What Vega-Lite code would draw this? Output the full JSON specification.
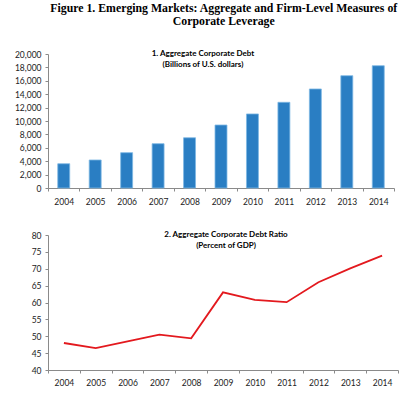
{
  "$schema": "https://vega.github.io/schema/vega-lite/v6.json",
  "background": "white",
  "padding": {"left": 5, "top": 3, "right": 0, "bottom": 0},
  "title": {
    "text": ["Figure 1. Emerging Markets: Aggregate and Firm-Level Measures of", "Corporate Leverage"],
    "font": "Liberation Serif",
    "fontSize": 11.8,
    "fontWeight": "bold",
    "color": "black",
    "anchor": "middle",
    "lineHeight": 13,
    "dx": 22,
    "offset": 22
  },
  "spacing": 25,
  "datasets": {
    "emerging": [
      {"year": "2004", "debt": 3620, "ratio": 48.0},
      {"year": "2005", "debt": 4180, "ratio": 46.5},
      {"year": "2006", "debt": 5270, "ratio": 48.5},
      {"year": "2007", "debt": 6610, "ratio": 50.5},
      {"year": "2008", "debt": 7500, "ratio": 49.4},
      {"year": "2009", "debt": 9400, "ratio": 63.0},
      {"year": "2010", "debt": 11050, "ratio": 60.8},
      {"year": "2011", "debt": 12790, "ratio": 60.1},
      {"year": "2012", "debt": 14780, "ratio": 66.0},
      {"year": "2013", "debt": 16760, "ratio": 70.1},
      {"year": "2014", "debt": 18250, "ratio": 73.9}
    ]
  },
  "data": {"name": "emerging"},
  "config": {
    "view": {"stroke": null},
    "axis": {
      "labelFont": "Lato",
      "labelFontSize": 8.5,
      "labelColor": "#222222",
      "domainColor": "#8a8a8a",
      "tickColor": "#8a8a8a",
      "tickSize": 3,
      "grid": false,
      "title": null
    }
  },
  "vconcat": [
    {
      "width": 346,
      "height": 134,
      "title": {
        "text": ["1. Aggregate Corporate Debt", "(Billions of U.S. dollars)"],
        "font": "Lato",
        "fontSize": 8,
        "fontWeight": "bold",
        "color": "black",
        "anchor": "middle",
        "frame": "group",
        "lineHeight": 11,
        "dx": -18,
        "offset": -19
      },
      "mark": {"type": "bar", "color": "#2a7ec3", "stroke": "#7db7e3", "strokeWidth": 0.8, "width": {"band": 0.38}},
      "encoding": {
        "x": {
          "field": "year",
          "type": "ordinal",
          "scale": {"type": "band", "paddingInner": 0, "paddingOuter": 0},
          "axis": {"labelAngle": 0, "tickBand": "extent", "labelPadding": 6}
        },
        "y": {
          "field": "debt",
          "type": "quantitative",
          "scale": {"domain": [0, 20000]},
          "axis": {
            "values": [0, 2000, 4000, 6000, 8000, 10000, 12000, 14000, 16000, 18000, 20000],
            "format": ",d",
            "minExtent": 43,
            "maxExtent": 43,
            "labelPadding": 4
          }
        }
      }
    },
    {
      "width": 350,
      "height": 135,
      "title": {
        "text": ["2. Aggregate Corporate Debt Ratio", "(Percent of GDP)"],
        "font": "Lato",
        "fontSize": 8,
        "fontWeight": "bold",
        "color": "black",
        "anchor": "middle",
        "frame": "group",
        "lineHeight": 11,
        "dx": 3,
        "offset": -19
      },
      "mark": {"type": "line", "color": "#e3191e", "strokeWidth": 1.8},
      "encoding": {
        "x": {
          "field": "year",
          "type": "ordinal",
          "scale": {"type": "band", "paddingInner": 0, "paddingOuter": 0},
          "axis": {"labelAngle": 0, "tickBand": "extent", "labelPadding": 5}
        },
        "y": {
          "field": "ratio",
          "type": "quantitative",
          "scale": {"domain": [40, 80]},
          "axis": {
            "values": [40, 45, 50, 55, 60, 65, 70, 75, 80],
            "minExtent": 31,
            "maxExtent": 31,
            "labelPadding": 4
          }
        }
      }
    }
  ]
}
